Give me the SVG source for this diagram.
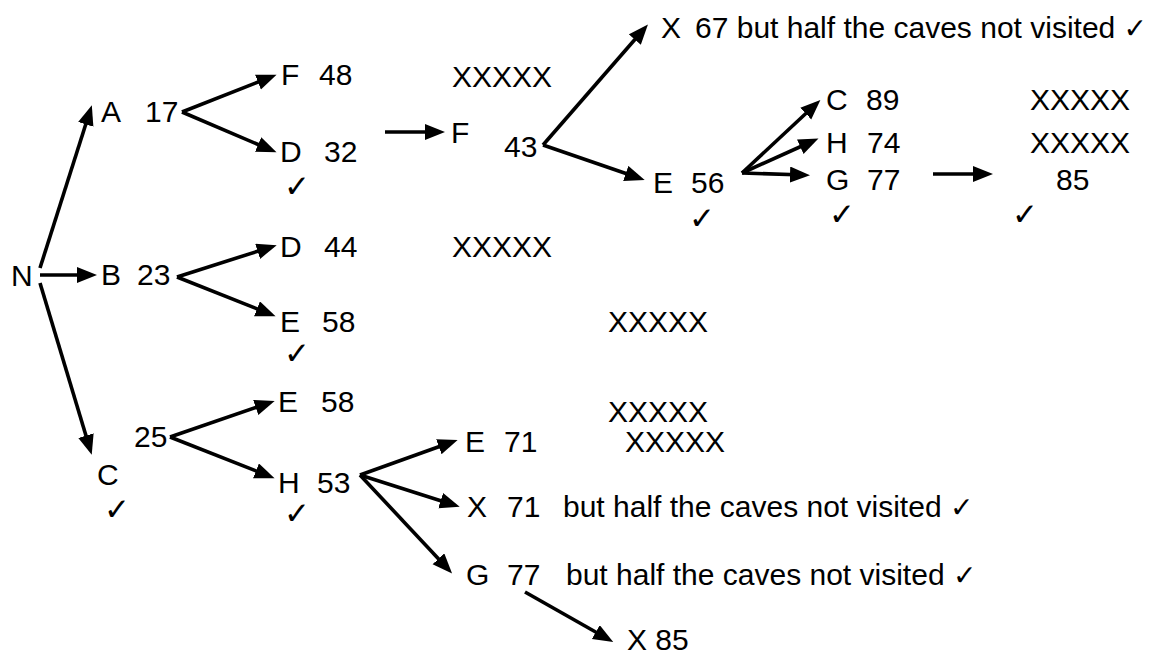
<svg xmlns="http://www.w3.org/2000/svg" width="1157" height="655" viewBox="0 0 1157 655">
<defs>
<marker id="ah" markerUnits="userSpaceOnUse" markerWidth="22" markerHeight="18" refX="14" refY="8" orient="auto"><path d="M0,0 L20,8 L0,16 z" fill="#000"/></marker>
<style>
.t{font-family:"Liberation Sans",Arial,sans-serif;font-size:30px;fill:#000}
.ck{font-family:"DejaVu Sans",sans-serif;font-size:31px;fill:#000}
.ci{font-family:"DejaVu Sans",sans-serif;font-size:28px}
.c line{stroke:#000;stroke-width:3.6;marker-end:url(#ah)}
</style>
</defs>
<rect width="1157" height="655" fill="#fff"/>
<g id="connectors" class="c">
<line x1="40" y1="268" x2="90" y2="111"/>
<line x1="40" y1="275" x2="91" y2="275"/>
<line x1="40" y1="283" x2="90" y2="449"/>
<line x1="182" y1="112" x2="271" y2="77"/>
<line x1="182" y1="112" x2="271" y2="150"/>
<line x1="385" y1="132" x2="439" y2="132"/>
<line x1="543" y1="145" x2="644" y2="29"/>
<line x1="543" y1="145" x2="639" y2="178"/>
<line x1="742" y1="173" x2="816" y2="104"/>
<line x1="742" y1="173" x2="813" y2="141"/>
<line x1="742" y1="173" x2="804" y2="175"/>
<line x1="933" y1="174" x2="987" y2="174"/>
<line x1="177" y1="277" x2="271" y2="247"/>
<line x1="177" y1="277" x2="270" y2="314"/>
<line x1="170" y1="437" x2="269" y2="403"/>
<line x1="170" y1="437" x2="269" y2="476"/>
<line x1="360" y1="475" x2="452" y2="442"/>
<line x1="360" y1="475" x2="454" y2="505"/>
<line x1="360" y1="475" x2="448" y2="569"/>
<line x1="525" y1="592" x2="608" y2="639"/>
</g>
<g id="N"><text class="t" x="11" y="286">N</text></g>
<g id="A"><text class="t" x="101" y="122">A</text><text class="t" x="145" y="122">17</text></g>
<g id="B"><text class="t" x="101" y="285">B</text><text class="t" x="137" y="285">23</text></g>
<g id="C"><text class="t" x="97" y="485">C</text><text class="ck" x="104" y="520">✓</text><text class="t" x="134" y="447">25</text></g>
<g id="F48"><text class="t" x="281" y="85">F</text><text class="t" x="319" y="85">48</text></g>
<g id="D32"><text class="t" x="280" y="162">D</text><text class="t" x="324" y="162">32</text><text class="ck" x="284" y="197">✓</text></g>
<g id="D44"><text class="t" x="280" y="257">D</text><text class="t" x="324" y="257">44</text></g>
<g id="E58a"><text class="t" x="280" y="332">E</text><text class="t" x="322" y="332">58</text><text class="ck" x="284" y="364">✓</text></g>
<g id="E58b"><text class="t" x="278" y="412">E</text><text class="t" x="321" y="412">58</text></g>
<g id="H53"><text class="t" x="278" y="493">H</text><text class="t" x="317" y="493">53</text><text class="ck" x="284" y="524">✓</text></g>
<g id="F43"><text class="t" x="451" y="143">F</text><text class="t" x="504" y="157">43</text></g>
<g id="xx1"><text class="t" x="452" y="87">XXXXX</text></g>
<g id="xx2"><text class="t" x="452" y="257">XXXXX</text></g>
<g id="xx3"><text class="t" x="608" y="332">XXXXX</text></g>
<g id="xx4"><text class="t" x="608" y="422">XXXXX</text></g>
<g id="xx5"><text class="t" x="625" y="452">XXXXX</text></g>
<g id="X67"><text class="t" x="661" y="38">X</text><text class="t" x="695" y="38">67 but half the caves not visited <tspan class="ci">✓</tspan></text></g>
<g id="E56"><text class="t" x="653" y="193">E</text><text class="t" x="691" y="193">56</text><text class="ck" x="689" y="229">✓</text></g>
<g id="C89"><text class="t" x="826" y="110">C</text><text class="t" x="866" y="110">89</text></g>
<g id="H74"><text class="t" x="826" y="153">H</text><text class="t" x="867" y="153">74</text></g>
<g id="G77a"><text class="t" x="826" y="190">G</text><text class="t" x="867" y="190">77</text><text class="ck" x="829" y="225">✓</text></g>
<g id="xx6"><text class="t" x="1030" y="110">XXXXX</text></g>
<g id="xx7"><text class="t" x="1030" y="153">XXXXX</text></g>
<g id="n85"><text class="t" x="1056" y="190">85</text><text class="ck" x="1012" y="225">✓</text></g>
<g id="E71"><text class="t" x="465" y="452">E</text><text class="t" x="504" y="452">71</text></g>
<g id="X71"><text class="t" x="467" y="517">X</text><text class="t" x="507" y="517">71</text><text class="t" x="563" y="517">but half the caves not visited <tspan class="ci">✓</tspan></text></g>
<g id="G77b"><text class="t" x="466" y="585">G</text><text class="t" x="507" y="585">77</text><text class="t" x="566" y="585">but half the caves not visited <tspan class="ci">✓</tspan></text></g>
<g id="X85"><text class="t" x="627" y="650">X 85</text></g>
</svg>
